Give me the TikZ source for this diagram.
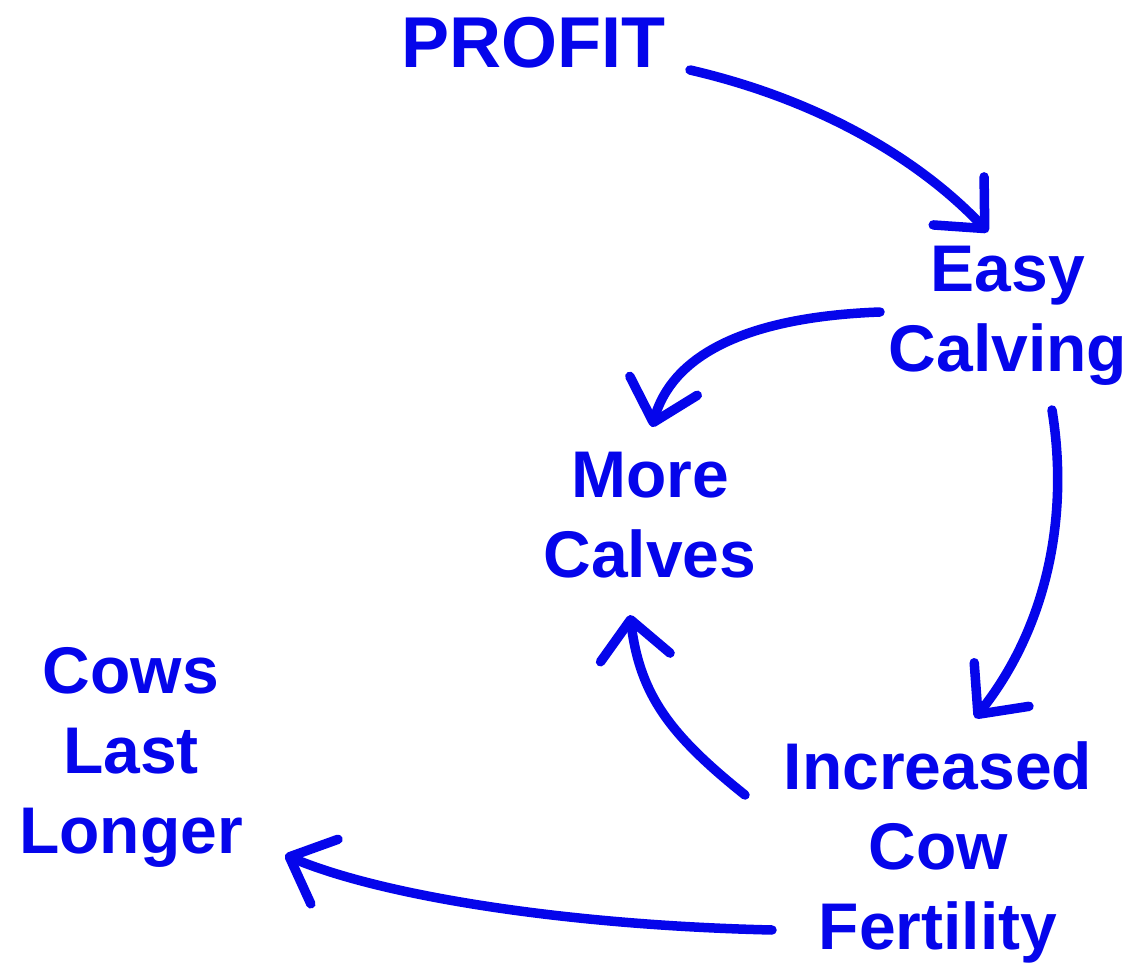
\documentclass[tikz,border=0pt]{standalone}
\usepackage{fontspec}
\setmainfont{Liberation Sans}
\usepackage{tikz}
\usetikzlibrary{arrows.meta, calc}
\definecolor{cowblue}{RGB}{5,5,235}

\begin{document}
\begin{tikzpicture}[x=1pt, y=-1pt,
    lbl/.style = {font=\bfseries\fontsize{66}{80}\selectfont, text=cowblue, align=center, inner sep=0pt},
    flow/.style = {draw=cowblue, line width=9.5pt, line cap=round, line join=round,
      -{Straight Barb[length=38pt, width=70pt, line width=9.5pt, line cap=round, line join=round]}}]
	\useasboundingbox (0,0) rectangle (1136,968);
	\node[lbl, font=\bfseries\fontsize{72}{80}\selectfont] (profit) at (533,43) {PROFIT};
	\node[lbl] (easy) at (1008,316) {Easy\\Calving};
	\node[lbl] (more) at (650,515) {More\\Calves};
	\node[lbl] (fert) at (938,852) {Increased\\Cow\\Fertility};
	\node[lbl] (last) at (131,757) {Cows\\Last\\Longer};
	% profit -> easy calving
	\draw[flow] ($(profit)+(157,27)$) .. controls (820,100) and (920,160) .. ($(easy)+(-20,-84)$);
	% easy calving -> more calves
	\draw[flow] ($(easy)+(-128,-4)$) .. controls (720,318) and (668,370) .. ($(more)+(2,-88)$);
	% easy calving -> fertility
	\draw[flow] ($(easy)+(44,94)$) .. controls (1070,520) and (1045,630) .. ($(fert)+(37,-134)$);
	% fertility -> more calves
	\draw[flow] ($(fert)+(-193,-57)$) .. controls (670,735) and (640,695) .. ($(more)+(-20,100)$);
	% fertility -> cows last longer
	\draw[flow] ($(fert)+(-166,78)$) .. controls (560,925) and (380,895) .. ($(last)+(154,98)$);
\end{tikzpicture}
\end{document}
